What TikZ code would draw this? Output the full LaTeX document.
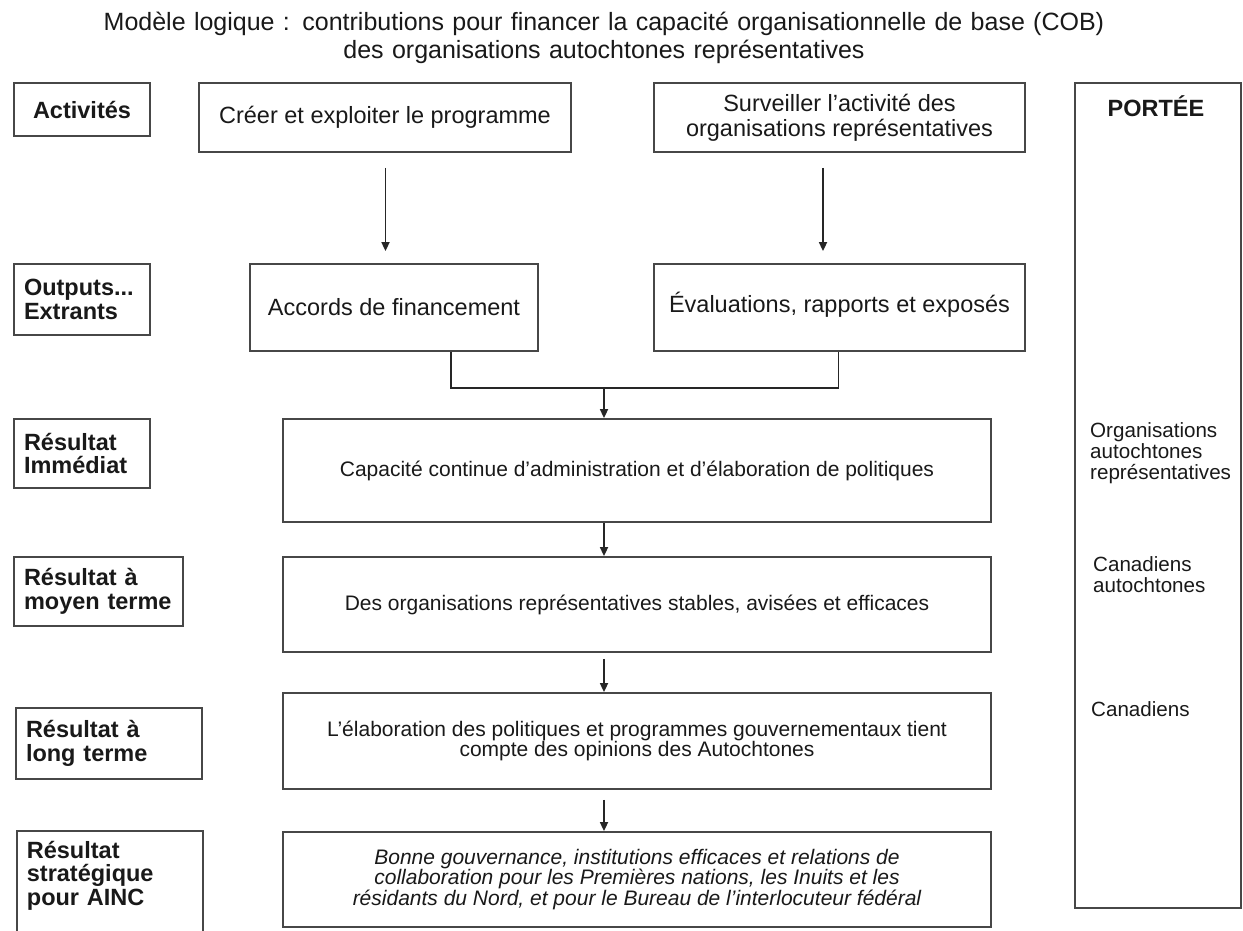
\documentclass[tikz,border=0pt]{standalone}
\usepackage{fontspec}
\setmainfont{Liberation Sans}
\usetikzlibrary{arrows.meta,calc}
\begin{document}
\begin{tikzpicture}[x=1pt,y=-1pt,
  frame/.style={draw=black!72, line width=1.8pt},
  box/.style={frame, inner sep=0pt, align=center, text=black!90},
  upper/.style={box, font=\fontsize{23.5}{25}\selectfont},
  lower/.style={box, font=\fontsize{21}{20.5}\selectfont},
  lab/.style={frame, inner xsep=10pt, inner ysep=0pt, align=left, text=black!90,
              font=\fontsize{23.5}{23.5}\selectfont\bfseries},
  scopetext/.style={align=left, inner sep=0pt, anchor=base west, text width=140pt,
              text=black!90, font=\fontsize{20.6}{21}\selectfont},
  ln/.style={line width=1.7pt, black!85},
  arr/.style={ln, -{Triangle[length=9pt,width=8pt]}}]
\clip (0,0) rectangle (1243,931);
\fill[white] (0,0) rectangle (1243,931);

% title
\node[inner sep=0pt, text width=1200pt, align=center, anchor=base,
      font=\fontsize{25}{28}\selectfont, text=black!90] (title) at (604,31)
  {Modèle logique : contributions pour financer la capacité organisationnelle de base (COB)\\
   des organisations autochtones représentatives};

% row labels
\node[lab, text width=116pt, align=center, minimum height=53pt] (act) at (82,109.5) {Activités};
\node[lab, text width=116pt, minimum height=71pt] (out) at (82,299.5) {Outputs...\\Extrants};
\node[lab, text width=116pt, minimum height=69pt] (imm) at (82,453.5) {Résultat\\Immédiat};
\node[lab, text width=149pt, minimum height=69pt] (moy) at (98.5,591.5) {Résultat à\\moyen~terme};
\node[lab, text width=166pt, inner xsep=10pt, minimum height=71pt] (lng) at (109,743.5) {Résultat à\\long terme};
\node[lab, text width=166pt, anchor=north west, inner ysep=10pt, text depth=110pt] (str) at (16,830)
  {Résultat\\stratégique\\pour AINC};

% activities and outputs
\node[upper, minimum width=372pt, minimum height=69pt] (creer) at (385,117.5) {Créer et exploiter le programme};
\node[upper, minimum width=371pt, minimum height=69pt] (surv) at (839.5,117.5) {Surveiller l'activité des\\organisations représentatives};
\node[upper, minimum width=288pt, minimum height=87pt] (acc) at (394,307.5) {Accords de financement};
\node[upper, minimum width=371pt, minimum height=87pt, text depth=10pt] (eval) at (839.5,307.5) {Évaluations, rapports et exposés};

% results
\node[lower, minimum width=708pt, minimum height=103pt] (cap) at (637,470.5)
  {Capacité continue d'administration et d'élaboration de politiques};
\node[lower, minimum width=708pt, minimum height=95pt] (org) at (637,604.5)
  {Des organisations représentatives stables, avisées et efficaces};
\node[lower, minimum width=708pt, minimum height=96pt] (ela) at (637,741)
  {L'élaboration des politiques et programmes gouvernementaux tient\\compte des opinions des Autochtones};
\node[lower, minimum width=708pt, minimum height=95pt, font=\fontsize{21}{20.5}\selectfont\itshape] (bon) at (637,879.5)
  {Bonne gouvernance, institutions efficaces et relations de\\collaboration pour les Premières nations, les Inuits et les\\résidants du Nord, et pour le Bureau de l'interlocuteur fédéral};

% scope column
\node[frame, inner sep=0pt, minimum width=166pt, minimum height=825pt] (portee) at (1158,495.5) {};
\node[inner sep=0pt, text=black!90, font=\fontsize{23.5}{23.5}\selectfont\bfseries] (ptitle) at (1156,106) {PORTÉE};
\node[scopetext] (s1) at (1090,437) {Organisations\\autochtones\\représentatives};
\node[scopetext] (s2) at (1093,571) {Canadiens\\autochtones};
\node[scopetext] (s3) at (1091,716) {Canadiens};

% connectors
\draw[arr] ($(creer.south)+(0.5,15)$) -- ($(creer.south |- acc.north)+(0.5,-12)$);
\draw[arr] ($(surv.south)+(-16.5,15)$) -- ($(surv.south |- acc.north)+(-16.5,-12)$);
\coordinate (mrg) at (604,388);
\draw[ln] ($(acc.south)+(57,0)$) |- (mrg) -| ($(eval.south)+(-1,0)$);
\draw[arr] (mrg) -- (mrg |- cap.north);
\draw[arr] (mrg |- cap.south) -- (mrg |- org.north);
\draw[arr] ($(mrg |- org.south)+(0,6)$) -- (mrg |- ela.north);
\draw[arr] ($(mrg |- ela.south)+(0,10)$) -- (mrg |- bon.north);
\end{tikzpicture}
\end{document}
